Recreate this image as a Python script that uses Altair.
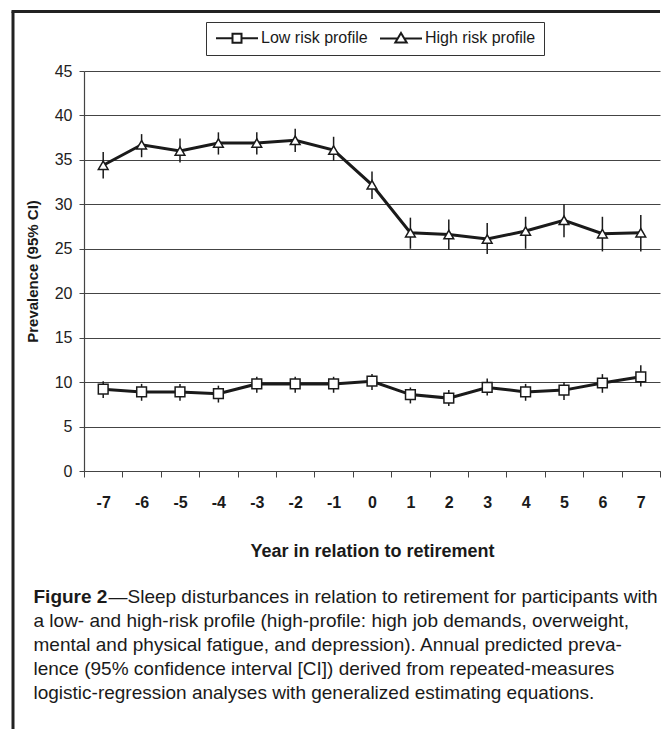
import altair as alt
import pandas as pd

# ---------------- data ----------------
years = list(range(-7, 8))
series_names = ["Low  risk profile", "High risk profile"]

high = [34.4, 36.7, 36.0, 36.9, 36.9, 37.2, 36.1, 32.2, 26.8, 26.6, 26.1, 27.0, 28.2, 26.7, 26.8]
high_lo = [32.9, 35.3, 34.7, 35.6, 35.6, 35.9, 34.9, 30.6, 25.0, 24.9, 24.4, 25.0, 26.3, 24.7, 24.7]
high_hi = [35.9, 37.9, 37.4, 38.1, 38.1, 38.5, 37.6, 33.7, 28.5, 28.3, 27.9, 28.6, 30.0, 28.6, 28.8]

low = [9.2, 8.9, 8.9, 8.7, 9.8, 9.8, 9.8, 10.1, 8.6, 8.2, 9.4, 8.9, 9.1, 9.9, 10.6]
low_lo = [8.2, 7.9, 7.9, 7.7, 8.8, 8.8, 8.8, 9.1, 7.6, 7.3, 8.5, 7.9, 8.0, 8.8, 9.5]
low_hi = [10.1, 9.8, 9.8, 9.6, 10.6, 10.6, 10.6, 10.9, 9.4, 9.1, 10.4, 9.8, 10.0, 10.9, 11.9]

y_ticks = list(range(0, 46, 5))

caption_bold = "Figure 2"
caption_first = "\u2014Sleep disturbances in relation to retirement for participants with"
caption_lines = [
    "a low- and high-risk profile (high-profile: high job demands, overweight,",
    "mental and physical fatigue, and depression). Annual predicted preva-",
    "lence (95% confidence interval [CI]) derived from repeated-measures",
    "logistic-regression analyses with generalized estimating equations.",
]

rows = []
for i, yr in enumerate(years):
    rows.append(dict(year=yr, series=series_names[0], value=low[i], lo=low_lo[i], hi=low_hi[i]))
    rows.append(dict(year=yr, series=series_names[1], value=high[i], lo=high_lo[i], hi=high_hi[i]))
df = pd.DataFrame(rows)
one = pd.DataFrame({"k": [0]})

# ---------------- layout ----------------
W, H = 576, 400
FONT = "Liberation Sans"
INK = "#1a1a1a"

x_scale = alt.Scale(type="band", paddingInner=0, paddingOuter=0)
x_axis = alt.Axis(
    title="Year in relation to retirement", labelAngle=0, labelFont=FONT,
    labelFontWeight="bold", labelFontSize=16, labelColor=INK, labelPadding=17,
    tickSize=6, tickBand="extent", tickColor="#444", domainColor="#444", domainWidth=1.2,
    titleFont=FONT, titleFontSize=18, titleFontWeight="bold", titleColor=INK,
    titleX=W / 2, titleY=80, titleBaseline="middle", grid=False,
)
y_scale = alt.Scale(domain=[0, 45], nice=False)
y_axis = alt.Axis(
    values=y_ticks, title="Prevalence (95% CI)", grid=True, gridColor="#444",
    gridWidth=1, domainColor="#444", domainWidth=1.2, tickColor="#444", tickSize=5,
    labelFont=FONT, labelFontSize=16, labelColor="#222", labelPadding=7,
    titleFont=FONT, titleFontSize=15, titleFontWeight="bold", titleColor=INK,
    titleX=-44, titleY=H / 2, titleAngle=270, titleAlign="center", titleBaseline="bottom",
)

X = alt.X("year:O", sort=years, scale=x_scale, axis=x_axis)
Yv = alt.Y("value:Q", scale=y_scale, axis=y_axis)

base = alt.Chart(df)

errbars = base.mark_rule(color=INK, strokeWidth=1.5).encode(
    x=X,
    y=alt.Y("lo:Q", scale=y_scale, axis=y_axis),
    y2="hi:Q",
    detail="series:N",
)

lines = base.mark_line(color=INK, strokeWidth=3).encode(
    x=X, y=Yv, detail="series:N",
)

points = base.mark_point(filled=True, fill="white", stroke=INK, strokeWidth=1.5, opacity=1, size=95).encode(
    x=X, y=Yv,
    shape=alt.Shape("series:N", scale=alt.Scale(domain=series_names, range=["square", "triangle-up"]), legend=None),
)

# legend symbols "—□—" and "—△—" as custom paths (unit = 6 px)
low_sym = "M-1,0L1.75,0M3.25,0L6,0M1.75,-0.75L3.25,-0.75L3.25,0.75L1.75,0.75Z"
high_sym = "M-1,0L2.0,0M3.0,0L6,0M2.5,-0.9L3.45,0.7L1.55,0.7Z"

legend_layer = base.mark_point(filled=False, strokeWidth=2).encode(
    x=X, y=Yv,
    opacity=alt.value(0),
    shape=alt.Shape(
        "series:N",
        scale=alt.Scale(domain=series_names, range=[low_sym, high_sym]),
        legend=alt.Legend(
            title=None, orient="none", legendX=122, legendY=-49, direction="horizontal",
            columns=2, symbolSize=144, symbolStrokeWidth=2, symbolFillColor="white",
            symbolStrokeColor=INK, symbolOpacity=1, labelOffset=31, columnPadding=3, padding=8,
            strokeColor="#333", labelFont=FONT, labelFontSize=16, labelColor=INK,
            labelLimit=300,
        ),
    ),
)

# frame around the figure
deco = alt.Chart(one)
frame_left = deco.mark_rule(color="#222", strokeWidth=3).encode(
    x=alt.value(-71), y=alt.value(-59.5), y2=alt.value(658)
)
frame_top = deco.mark_rule(color="#222", strokeWidth=3).encode(
    x=alt.value(-72.5), x2=alt.value(W), y=alt.value(-59.5)
)

cap_x = -50.5
cap_y0 = 531.5
CAP = 19
cap1 = deco.mark_text(
    font=FONT, fontSize=CAP, fontWeight="bold", align="left", baseline="alphabetic", color=INK
).encode(x=alt.value(cap_x), y=alt.value(cap_y0), text=alt.value(caption_bold))
cap2 = deco.mark_text(
    font=FONT, fontSize=CAP, align="left", baseline="alphabetic", color=INK
).encode(x=alt.value(cap_x + 75), y=alt.value(cap_y0), text=alt.value(caption_first))
cap3 = deco.mark_text(
    font=FONT, fontSize=CAP, align="left", baseline="alphabetic", color=INK,
    lineBreak="\n", lineHeight=24.2,
).encode(x=alt.value(cap_x), y=alt.value(cap_y0 + 24.2), text=alt.value("\n".join(caption_lines)))

chart = alt.layer(
    errbars, lines, points, legend_layer, frame_left, frame_top, cap1, cap2, cap3
).resolve_scale(shape="independent").resolve_legend(shape="independent").properties(
    width=W, height=H, padding={"left": 2, "top": 2, "right": 0, "bottom": 0}
).configure_view(stroke=None)

chart.save("out.html", embed_options={"renderer": "svg", "actions": False})
